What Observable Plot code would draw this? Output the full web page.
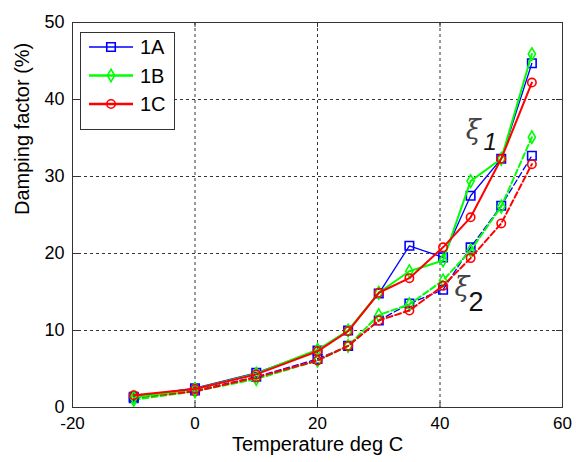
<!DOCTYPE html>
<html>
<head>
<meta charset="utf-8">
<script src="https://cdn.jsdelivr.net/npm/d3@7"></script>
<script src="https://cdn.jsdelivr.net/npm/@observablehq/plot@0.6"></script>
<style>
  body { margin: 0; background: #fff; }
  #wrap { position: relative; width: 576px; height: 462px; }
  #wrap svg { display: block; }
</style>
</head>
<body>
<div id="wrap"></div>
<script>
// ---- data ----
const temps = [-10, 0, 10, 20, 25, 30, 35, 40.5, 45, 50, 55];
const xi1_1A = [1.4, 2.5, 4.5, 7.4, 10.0, 14.8, 21.0, 19.5, 27.5, 32.3, 44.7];
const xi1_1B = [1.3, 2.4, 4.4, 7.5, 10.0, 14.9, 17.7, 19.1, 29.4, 32.3, 45.9];
const xi1_1C = [1.6, 2.4, 4.3, 7.3, 9.9, 14.9, 16.8, 20.8, 24.7, 32.3, 42.2];
const xi2_1A = [1.2, 2.2, 4.0, 6.3, 8.0, 11.3, 13.5, 15.3, 20.8, 26.2, 32.7];
const xi2_1B = [1.0, 2.1, 3.7, 6.1, 8.0, 12.0, 13.4, 16.5, 20.4, 26.1, 35.1];
const xi2_1C = [1.3, 2.1, 3.9, 6.1, 8.0, 11.3, 12.6, 15.8, 19.4, 23.9, 31.6];
const seriesNames = ["1A", "1B", "1C"];
const xTicks = [-20, 0, 20, 40, 60];
const yTicks = [0, 10, 20, 30, 40, 50];
const xLabel = "Temperature deg C";
const yLabel = "Damping factor (%)";

// ---- styling ----
const colors = {"1A": "#0000ff", "1B": "#00ff00", "1C": "#ff0000"};
const symbols = {"1A": "square", "1B": "diamond", "1C": "circle"};
const radii = {"1A": 4.8, "1B": 3.8, "1C": 4.2};
const widths = {"1A": 1.3, "1B": 2, "1C": 2};

const rows = [];
const add = (name, mode, vals) => vals.forEach((v, i) => rows.push({series: name, mode, t: temps[i], v}));
add("1A", "xi1", xi1_1A); add("1B", "xi1", xi1_1B); add("1C", "xi1", xi1_1C);
add("1A", "xi2", xi2_1A); add("1B", "xi2", xi2_1B); add("1C", "xi2", xi2_1C);

const font = "'Liberation Sans', Arial, sans-serif";
const marks = [
  Plot.ruleX(xTicks.slice(1, -1), {stroke: "#000", strokeWidth: 0.8, strokeDasharray: "3,3"}),
  Plot.ruleY(yTicks.slice(1, -1), {stroke: "#000", strokeWidth: 0.8, strokeDasharray: "3,3"}),
  // inward ticks
  Plot.ruleX(xTicks, {insetTop: 380, stroke: "#333"}),
  Plot.ruleX(xTicks, {insetBottom: 380, stroke: "#333"}),
  Plot.ruleY(yTicks, {insetRight: 484, stroke: "#333"}),
  Plot.ruleY(yTicks, {insetLeft: 484, stroke: "#333"}),
  Plot.axisX(xTicks, {tickSize: 0, tickPadding: 9, tickFormat: d => String(d), fontSize: 17, label: null}),
  Plot.axisY(yTicks, {tickSize: 0, tickPadding: 8, tickFormat: d => String(d), fontSize: 18, label: null}),
];
for (const mode of ["xi2", "xi1"]) {
  for (const s of seriesNames) {
    const data = rows.filter(r => r.series === s && r.mode === mode);
    marks.push(Plot.line(data, {
      x: "t", y: "v", stroke: colors[s], strokeWidth: widths[s],
      strokeDasharray: mode === "xi2" ? "6,3" : null
    }));
    marks.push(Plot.dot(data, {
      x: "t", y: "v", stroke: colors[s], symbol: symbols[s], r: radii[s], strokeWidth: 1.6, fill: "none"
    }));
  }
}
marks.push(
  Plot.frame({stroke: "#333", strokeWidth: 1}),
  Plot.text([xLabel], {frameAnchor: "bottom", dy: 43, text: d => d, fontSize: 20, fill: "#000"}),
  Plot.text([yLabel], {frameAnchor: "left", dx: -50, rotate: -90, text: d => d, fontSize: 20, fill: "#000"}),
  Plot.text(["ξ"], {x: [45.4], y: [36.0], text: d => d, fontSize: 27, fontStyle: "italic", fontFamily: "'DejaVu Serif', serif", fill: "#444"}),
  Plot.text(["1"], {x: [48.2], y: [34.4], text: d => d, fontSize: 24, fontStyle: "italic", fill: "#111"}),
  Plot.text(["ξ"], {x: [43.6], y: [15.6], text: d => d, fontSize: 27, fontStyle: "italic", fontFamily: "'DejaVu Serif', serif", fill: "#444"}),
  Plot.text(["2"], {x: [45.9], y: [13.6], text: d => d, fontSize: 27, fill: "#111"})
);

const chart = Plot.plot({
  width: 576, height: 462,
  marginLeft: 72, marginRight: 14, marginTop: 22, marginBottom: 55,
  style: {fontFamily: font, fontSize: "18px", color: "#000", background: "#fff"},
  x: {domain: [-20, 60]},
  y: {domain: [0, 50]},
  marks
});
const wrap = document.getElementById("wrap");
wrap.appendChild(chart);

// ---- legend ----
const leg = d3.select(wrap).append("svg")
  .attr("width", 576).attr("height", 462)
  .style("position", "absolute").style("left", 0).style("top", 0)
  .style("pointer-events", "none");
leg.append("rect").attr("x", 80.5).attr("y", 32.5).attr("width", 94).attr("height", 97)
  .attr("fill", "#fff").attr("stroke", "#333");
seriesNames.forEach((s, i) => {
  const y = 47 + i * 28.5;
  leg.append("line").attr("x1", 89).attr("x2", 133).attr("y1", y).attr("y2", y)
    .attr("stroke", colors[s]).attr("stroke-width", widths[s] + 0.3);
  const typ = {square: d3.symbolSquare, diamond: d3.symbolDiamond, circle: d3.symbolCircle}[symbols[s]];
  leg.append("path").attr("transform", `translate(111,${y})`)
    .attr("d", d3.symbol(typ, Math.PI * radii[s] * radii[s])())
    .attr("fill", "none").attr("stroke", colors[s]).attr("stroke-width", 1.6);
  leg.append("text").attr("x", 140).attr("y", y).attr("dy", "0.36em")
    .attr("font-family", font).attr("font-size", 20).text(s);
});
</script>
</body>
</html>
